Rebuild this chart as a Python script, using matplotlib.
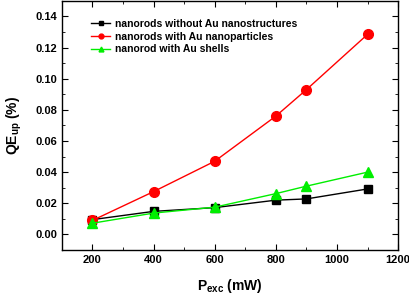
import numpy as np
import matplotlib
matplotlib.use('Agg')
import matplotlib.pyplot as plt
from matplotlib.ticker import MultipleLocator

# data
power = [200, 400, 600, 800, 900, 1100]
qe_bare = [0.0095, 0.0148, 0.0172, 0.0220, 0.0228, 0.0292]
qe_np = [0.0090, 0.0275, 0.0470, 0.0760, 0.0930, 0.1285]
qe_shell = [0.0072, 0.0137, 0.0175, 0.0262, 0.0310, 0.0400]
labels = ['nanorods without Au nanostructures',
          'nanorods with Au nanoparticles',
          'nanorod with Au shells']

plt.rcParams['font.family'] = 'Liberation Sans'
plt.rcParams['font.weight'] = 'bold'
plt.rcParams['mathtext.fontset'] = 'custom'
plt.rcParams['mathtext.bf'] = 'Liberation Sans:bold'
plt.rcParams['mathtext.default'] = 'bf'

fig = plt.figure(figsize=(4.10, 3.03), dpi=100)
ax = fig.add_axes([0.151, 0.175, 0.820, 0.822])

ax.plot(power, qe_bare, color='black', marker='s', markersize=6, lw=1.0,
        label=labels[0])
ax.plot(power, qe_np, color='red', marker='o', markersize=7, lw=1.0,
        label=labels[1])
ax.plot(power, qe_shell, color='#00ee00', marker='^', markersize=7, lw=1.0,
        label=labels[2])

ax.set_xlim(100, 1200)
ax.set_ylim(-0.01, 0.15)
ax.xaxis.set_major_locator(MultipleLocator(200))
ax.xaxis.set_minor_locator(MultipleLocator(100))
ax.yaxis.set_major_locator(MultipleLocator(0.02))
ax.yaxis.set_minor_locator(MultipleLocator(0.01))
ax.yaxis.set_major_formatter(matplotlib.ticker.FormatStrFormatter('%.2f'))
ax.tick_params(which='both', direction='in', top=True, right=True, labelsize=8)
ax.tick_params(which='major', length=4)
ax.tick_params(which='minor', length=2)
for lab in ax.get_xticklabels() + ax.get_yticklabels():
    lab.set_fontweight('bold')
for s in ax.spines.values():
    s.set_linewidth(1.0)

ax.set_xlabel('P$_{exc}$ (mW)', fontsize=10, fontweight='bold', labelpad=9)
ax.set_ylabel('QE$_{up}$ (%)', fontsize=10, fontweight='bold', labelpad=8)

leg = ax.legend(loc='upper left', bbox_to_anchor=(0.06, 0.965), frameon=False,
                fontsize=7.5, handlelength=1.8, markerscale=0.5,
                labelspacing=0.25, handletextpad=0.5)

fig.savefig('out.png', dpi=100)
